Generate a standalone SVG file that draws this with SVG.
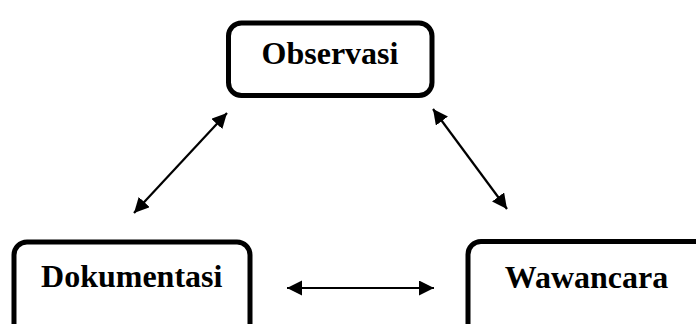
<svg xmlns="http://www.w3.org/2000/svg" width="696" height="324" viewBox="0 0 696 324">
  <style>
    .box { fill: #ffffff; stroke: #000000; stroke-width: 5; }
    .label { font-family: "Liberation Serif", "Times New Roman", serif; font-weight: bold; font-size: 32px; fill: #000000; text-anchor: middle; }
    .conn { stroke: #000000; stroke-width: 2.2; fill: none; marker-start: url(#arrow); marker-end: url(#arrow); }
  </style>
  <defs>
    <marker id="arrow" markerUnits="userSpaceOnUse" markerWidth="16" markerHeight="16" refX="15" refY="7.5" orient="auto-start-reverse">
      <path d="M0,0 L15,7.5 L0,15 Z" fill="#000000"/>
    </marker>
  </defs>
  <rect width="696" height="324" fill="#ffffff"/>
  <g id="node-observasi">
    <rect class="box" x="228.5" y="23" width="203.5" height="72.5" rx="13"/>
    <text class="label" x="330" y="64">Observasi</text>
  </g>
  <g id="node-dokumentasi">
    <rect class="box" x="14" y="242" width="236" height="110" rx="13"/>
    <text class="label" x="131.7" y="287">Dokumentasi</text>
  </g>
  <g id="node-wawancara">
    <rect class="box" x="468" y="241.5" width="260" height="110" rx="13"/>
    <text class="label" x="586.5" y="288">Wawancara</text>
  </g>
  <g id="connectors">
    <line class="conn" x1="134" y1="213" x2="227" y2="113"/>
    <line class="conn" x1="433" y1="109" x2="507" y2="209"/>
    <line class="conn" x1="287" y1="288" x2="434" y2="288"/>
  </g>
</svg>
